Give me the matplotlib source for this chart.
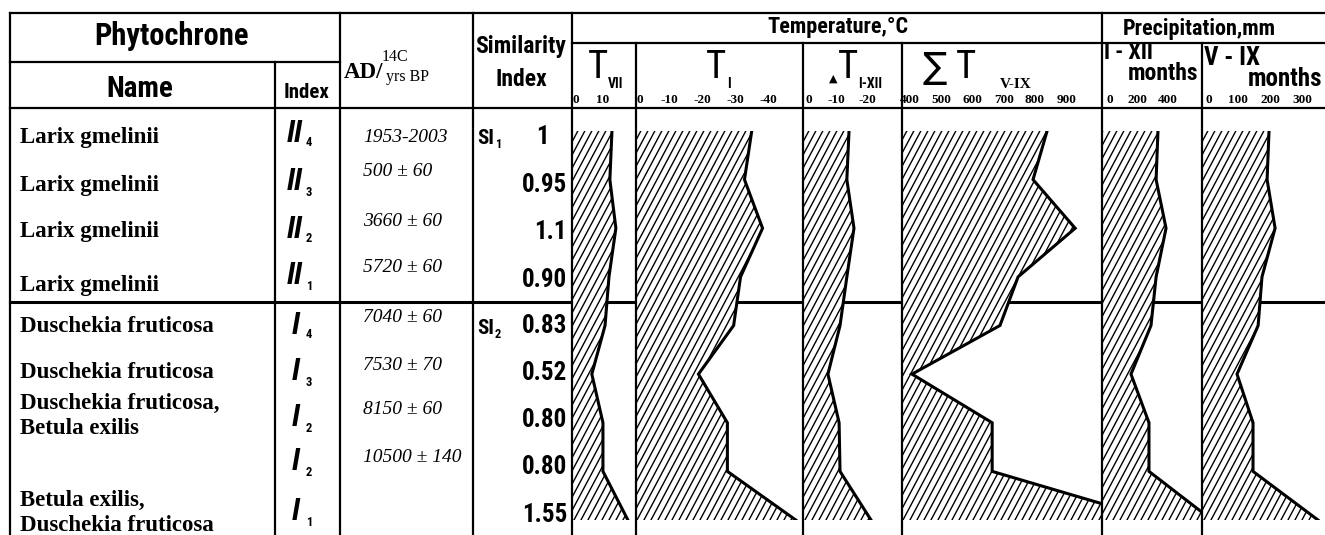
import numpy as np
import matplotlib
matplotlib.use('Agg')
import matplotlib.pyplot as plt
from matplotlib import font_manager as fm
from matplotlib.collections import LineCollection
from matplotlib.transforms import blended_transform_factory

W, H = 1325, 535

# ---------------- data ----------------
row_levels = [0, 1, 2, 3, 4, 5, 6, 7, 8]
t_july = [13.0, 12.3, 14.3, 12.0, 10.7, 6.3, 10.0, 10.0, 18.3]
t_january = [-34.9, -32.7, -38.2, -31.5, -29.4, -18.7, -27.5, -27.5, -48.3]
t_amplitude = [-14.2, -13.5, -15.8, -13.5, -11.3, -7.4, -11.0, -11.3, -21.3]
t_sum = [839, 794, 929, 746, 688, 406, 663, 663, 1192]
prec_year = [335, 323, 387, 323, 290, 161, 277, 277, 684]
prec_summer = [197, 191, 216, 175, 163, 97, 147, 147, 350]

ticks_july = [0, 10]
ticks_january = [0, -10, -20, -30, -40]
ticks_amplitude = [0, -10, -20]
ticks_sum = [400, 500, 600, 700, 800, 900]
ticks_prec_year = [0, 200, 400]
ticks_prec_summer = [0, 100, 200, 300]

species = ["Larix gmelinii", "Larix gmelinii", "Larix gmelinii", "Larix gmelinii",
           "Duschekia fruticosa", "Duschekia fruticosa",
           "Duschekia fruticosa,\nBetula exilis", "",
           "Betula exilis,\nDuschekia fruticosa"]
index_main = ["II", "II", "II", "II", "I", "I", "I", "I", "I"]
index_sub = ["4", "3", "2", "1", "4", "3", "2", "2", "1"]
dates = ["1953-2003", "500 ± 60", "3660 ± 60", "5720 ± 60", "7040 ± 60",
         "7530 ± 70", "8150 ± 60", "10500 ± 140", ""]
similarity = ["1", "0.95", "1.1", "0.90", "0.83", "0.52", "0.80", "0.80", "1.55"]

# ---------------- fonts ----------------
names = {f.name for f in fm.fontManager.ttflist}
narrow = None
for c in ['Liberation Sans Narrow', 'Arial Narrow', 'Roboto Condensed',
          'DejaVu Sans Condensed', 'Open Sans Condensed']:
    if c in names:
        narrow = c
        break
k = 1.0 if narrow else 0.84
if narrow is None:
    narrow = 'Liberation Sans'
SANS = [narrow, 'DejaVu Sans']
SERIF = ['Liberation Serif', 'DejaVu Serif']

fig = plt.figure(figsize=(W / 100, H / 100), dpi=100)
ax0 = fig.add_axes([0, 0, 1, 1])
ax0.set_xlim(0, W)
ax0.set_ylim(H, 0)
ax0.axis('off')


def t(x, y, s, fam=SANS, size=12, weight='bold', ha='center', va='center',
      style='normal', ax=None):
    (ax or ax0).text(x, y, s, family=fam, fontsize=size, weight=weight, ha=ha,
                     va=va, style=style, color='black')


# separator between phytochrone groups (drawn beneath profiles)
ax0.plot([10, W], [302, 302], color='black', lw=2.2, zorder=1)

# ---------------- header texts ----------------
t(172, 36, 'Phytochrone', size=22 * k)
t(140, 89, 'Name', size=21 * k)
t(307, 92, 'Index', size=15 * k)
t(344, 73, 'AD/', fam=SERIF, size=16.5, ha='left')
t(382, 57, '14C', fam=SERIF, size=11.5, weight='normal', ha='left')
t(386, 77, 'yrs BP', fam=SERIF, size=11.5, weight='normal', ha='left')
t(521, 47, 'Similarity', size=17 * k)
t(521, 80, 'Index', size=17 * k)
t(838, 27, 'Temperature,°C', size=16 * k)
t(1199, 29, 'Precipitation,mm', size=16 * k)

t(598, 67, 'T', size=28 * k, weight='normal')
t(608, 84, 'VII', size=10 * k, ha='left')
t(716, 67, 'T', size=28 * k, weight='normal')
t(727, 84, 'I', size=10 * k, ha='left')
t(833, 79, '▲', fam=['DejaVu Sans'], size=8, weight='normal')
t(848, 67, 'T', size=28 * k, weight='normal')
t(858, 84, 'I-XII', size=10 * k, ha='left')
t(935, 68, '∑', fam=['DejaVu Sans'], size=26, weight='normal')
t(966, 67, 'T', size=28 * k, weight='normal')
t(1000, 84, 'V-IX', fam=SERIF, size=11, ha='left')
t(1104, 53, 'I - XII', size=16 * k, ha='left')
t(1198, 73, 'months', size=17 * k, ha='right')
t(1204, 58, 'V - IX', size=18 * k, ha='left')
t(1322, 79, 'months', size=18 * k, ha='right')

# ---------------- row texts ----------------
name_y = [137, 185, 232, 285, 327, 373, 416, 0, 513]
for s, y in zip(species, name_y):
    if s:
        t(20, y, s, fam=SERIF, size=16.5, ha='left', va='center')

idx_y = [133, 182, 229, 276, 325, 372, 418, 462, 512]
for m, sub, y in zip(index_main, index_sub, idx_y):
    t(287 if m == 'II' else 292, y, m, size=22 * k, style='italic', ha='left')
    t(306, y + 10, sub, size=9 * k, ha='left')

date_y = [137, 172, 222, 268, 318, 365, 410, 458, 0]
for s, y in zip(dates, date_y):
    if s:
        t(363, y, s, fam=SERIF, size=14, weight='normal', style='italic', ha='left')

sim_y = [137, 185, 232, 280, 326, 373, 420, 467, 515]
sim_x = [549, 567, 567, 567, 567, 567, 567, 567, 567]
for s, x, y in zip(similarity, sim_x, sim_y):
    t(x, y, s, size=18 * k, ha='right')
t(477, 139, 'SI', size=15 * k, ha='left')
t(495, 145, '1', size=9 * k, ha='left')
t(477, 328, 'SI', size=15 * k, ha='left')
t(495, 334, '2', size=9 * k, ha='left')

# ---------------- profile columns ----------------
columns = [
    dict(px=(572, 636), lim=(-0.3, 21.0), vals=t_july, ticks=ticks_july),
    dict(px=(636, 803), lim=(0.3, -50.5), vals=t_january, ticks=ticks_january),
    dict(px=(803, 902), lim=(0.65, -31.3), vals=t_amplitude, ticks=ticks_amplitude),
    dict(px=(902, 1102), lim=(374, 1015), vals=t_sum, ticks=ticks_sum, center=True),
    dict(px=(1102, 1202), lim=(-26, 619), vals=prec_year, ticks=ticks_prec_year),
    dict(px=(1202, 1325), lim=(-12.5, 372), vals=prec_summer, ticks=ticks_prec_summer),
]
y_top, y_bot = 131, 520
cot = 1 / np.tan(np.radians(62))
hatch_segs = [[(c, H), (c + H * cot, 0)] for c in np.arange(-400, W + 50, 7)]

for col in columns:
    x0, x1 = col['px']
    ax = fig.add_axes([x0 / W, 1 - y_bot / H, (x1 - x0) / W, (y_bot - y_top) / H])
    ax.set_xlim(*col['lim'])
    ax.set_ylim(row_levels[-1], row_levels[0])
    ax.axis('off')
    ax.patch.set_visible(False)
    base = col['lim'][0]
    poly = ax.fill_betweenx(row_levels, base, col['vals'], facecolor='white',
                            edgecolor='none', lw=0, zorder=2)
    lc = LineCollection(hatch_segs, colors='black', linewidths=1.0,
                        transform=ax0.transData, zorder=3)
    ax.add_collection(lc, autolim=False)
    lc.set_clip_path(poly.get_paths()[0], ax.transData)
    lc.set_clip_box(ax.bbox)
    ax.plot(col['vals'], row_levels, color='black', lw=2.2, zorder=4,
            solid_joinstyle='miter')
    ax.set_xlim(*col['lim'])
    ax.set_ylim(row_levels[-1], row_levels[0])
    tr = blended_transform_factory(ax.transData, ax0.transData)
    for i, tv in enumerate(col['ticks']):
        ha = 'left' if (i == 0 and not col.get('center')) else 'center'
        ax.text(tv, 100, str(tv), transform=tr, family=SERIF, fontsize=9.5,
                weight='bold', ha=ha, va='center', clip_on=False)

# ---------------- table lines (on top) ----------------
axl = fig.add_axes([0, 0, 1, 1])
axl.set_xlim(0, W)
axl.set_ylim(H, 0)
axl.axis('off')
axl.patch.set_visible(False)
lw = 1.6
segs = [
    ((10, W), (13, 13)), ((10, W), (108, 108)),
    ((10, 340), (62, 62)), ((572, W), (43, 43)),
    ((10, 10), (13, H)), ((275, 275), (62, H)), ((340, 340), (13, H)),
    ((473, 473), (13, H)), ((572, 572), (13, H)),
    ((636, 636), (43, H)), ((803, 803), (43, H)), ((902, 902), (43, H)),
    ((1102, 1102), (13, H)), ((1202, 1202), (43, H)),
]
for xs, ys in segs:
    axl.plot(xs, ys, color='black', lw=lw, solid_capstyle='projecting')

fig.savefig('out.png', dpi=100)
